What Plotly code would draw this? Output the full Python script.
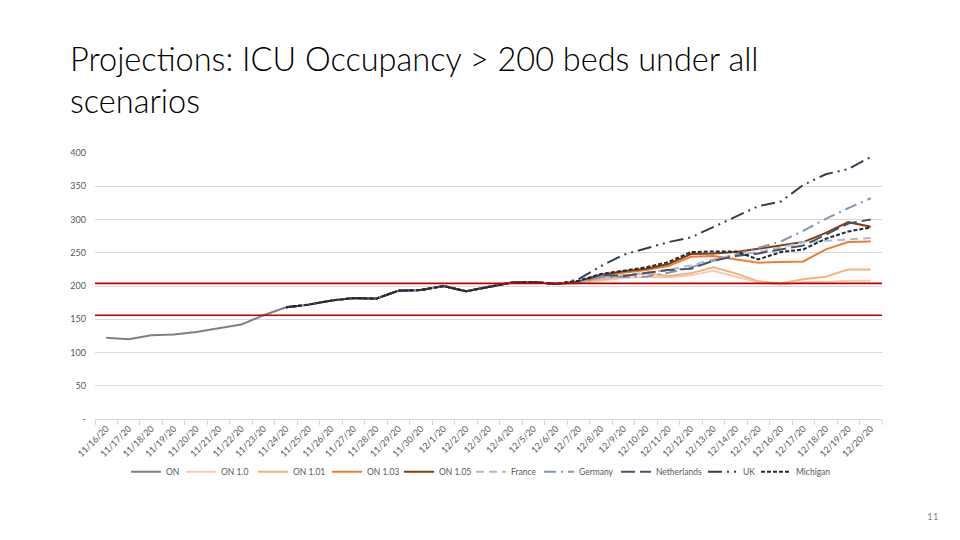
import plotly.graph_objects as go

dates = ["11/16/20","11/17/20","11/18/20","11/19/20","11/20/20","11/21/20","11/22/20",
         "11/23/20","11/24/20","11/25/20","11/26/20","11/27/20","11/28/20","11/29/20",
         "11/30/20","12/1/20","12/2/20","12/3/20","12/4/20","12/5/20","12/6/20",
         "12/7/20","12/8/20","12/9/20","12/10/20","12/11/20","12/12/20","12/13/20",
         "12/14/20","12/15/20","12/16/20","12/17/20","12/18/20","12/19/20","12/20/20"]

# observed ICU occupancy (11/16 - 12/6)
on_hist = [122, 120, 126, 127, 131, 136, 142, 156, 168, 172, 178, 182, 181, 193,
           194, 200, 192, 199, 205, 206, 203]

# projections 12/7 - 12/20
on_100 = [204, 208, 212, 214, 213, 216, 223, 214, 206, 202, 206, 206, 208, 208]
on_101 = [205, 210, 215, 219, 215, 219, 228, 219, 207, 204, 210, 214, 225, 225]
on_103 = [205, 214, 220, 224, 230, 244, 245, 240, 235, 236, 237, 255, 266, 267]
on_105 = [206, 217, 222, 226, 233, 248, 249, 251, 256, 261, 266, 280, 296, 289]
france = [205, 212, 216, 220, 224, 231, 240, 247, 251, 258, 266, 268, 270, 272]
germany = [206, 213, 214, 214, 220, 228, 238, 248, 257, 267, 283, 301, 317, 332]
netherlands = [207, 217, 215, 219, 224, 226, 238, 245, 249, 255, 261, 277, 294, 300]
uk = [210, 230, 247, 257, 266, 273, 289, 304, 320, 327, 352, 368, 376, 394]
michigan = [208, 218, 223, 228, 236, 251, 252, 252, 240, 251, 255, 271, 282, 288]

thresholds = [204, 156]

y_ticks = [0, 50, 100, 150, 200, 250, 300, 350, 400]
y_tick_text = ["-", "50", "100", "150", "200", "250", "300", "350", "400"]

HIST_START = 8  # scenario series include history from 11/24

# the page body adds an 8px offset; figure is sized/placed to compensate
OFF = 8
W, H = 960 - OFF, 540 - OFF
PL, PR, PT, PB = 95, 882.5, 153.3, 419.3  # plot area in screen pixels
PW, PH = PR - PL, PB - PT


def px(x):
    return (x - PL) / PW


def py(y):
    return (PB - y) / PH


fig = go.Figure()

fig.add_trace(go.Scatter(x=dates[:len(on_hist)], y=on_hist, name="ON", mode="lines",
                         legendwidth=10,
                         line=dict(color="#7f7f7f", width=2)))

scen = [
    ("ON 1.0", on_100, "#f8cbad", "solid", 27),
    ("ON 1.01", on_101, "#f4b183", "solid", 29),
    ("ON 1.03", on_103, "#ed7d31", "solid", 27),
    ("ON 1.05", on_105, "#843c0c", "solid", 27),
    ("France", france, "#adb9ca", "8px,5px", 23),
    ("Germany", germany, "#8497b0", "12px,5px,2px,5px", 32),
    ("Netherlands", netherlands, "#44546a", "14px,5px", 42),
    ("UK", uk, "#333f50", "14px,5px,2px,5px,2px,5px", 8),
    ("Michigan", michigan, "#222a35", "4px,2px", 36),
]
for name, vals, col, dash, lw in scen:
    fig.add_trace(go.Scatter(
        x=dates[HIST_START:],
        y=on_hist[HIST_START:] + vals,
        name=name, mode="lines", legendwidth=lw,
        line=dict(color=col, width=2, dash=dash)))

for t in thresholds:
    fig.add_shape(type="line", xref="paper", x0=0, x1=1, yref="y", y0=t, y1=t,
                  line=dict(color="#c00000", width=1.6))

fig.update_layout(
    width=W, height=H,
    paper_bgcolor="white", plot_bgcolor="white",
    margin=dict(l=PL - OFF, r=W + OFF - PR, t=PT - OFF, b=H + OFF - PB,
                autoexpand=False),
    font=dict(family="Lato, Open Sans, sans-serif", color="#595959", size=9),
    showlegend=True,
    legend=dict(orientation="h", x=px(126), xanchor="left", y=py(472), yanchor="middle",
                font=dict(size=8.5, color="#595959"), itemwidth=30, tracegroupgap=0,
                bgcolor="rgba(0,0,0,0)"),
    xaxis=dict(type="category", categoryorder="array", categoryarray=dates,
               range=[-0.5, len(dates) - 0.5], tickangle=-45, showgrid=False,
               showline=True, linecolor="#d9d9d9", linewidth=1,
               ticks="outside", tickson="boundaries", ticklen=5, tickcolor="#d9d9d9",
               tickfont=dict(size=9, color="#595959"), zeroline=False, fixedrange=True),
    yaxis=dict(range=[0, 400], tickvals=y_ticks, ticktext=y_tick_text,
               showgrid=True, gridcolor="#d9d9d9", gridwidth=1, zeroline=False,
               showline=False, ticks="", ticklabelstandoff=8,
               tickfont=dict(size=9, color="#595959"), fixedrange=True),
    annotations=[
        dict(text="Projections: ICU Occupancy > 200 beds under all<br>scenarios",
             xref="paper", yref="paper", x=px(68), y=py(37),
             xanchor="left", yanchor="top", align="left", showarrow=False,
             font=dict(family="Lato, sans-serif", size=32.5, color="#000000", weight=300)),
        dict(text="11", xref="paper", yref="paper", x=px(942),
             y=py(516), xanchor="right", yanchor="middle",
             showarrow=False, font=dict(size=10, color="#8c8c8c")),
    ],
)

fig.write_html("out.html")
